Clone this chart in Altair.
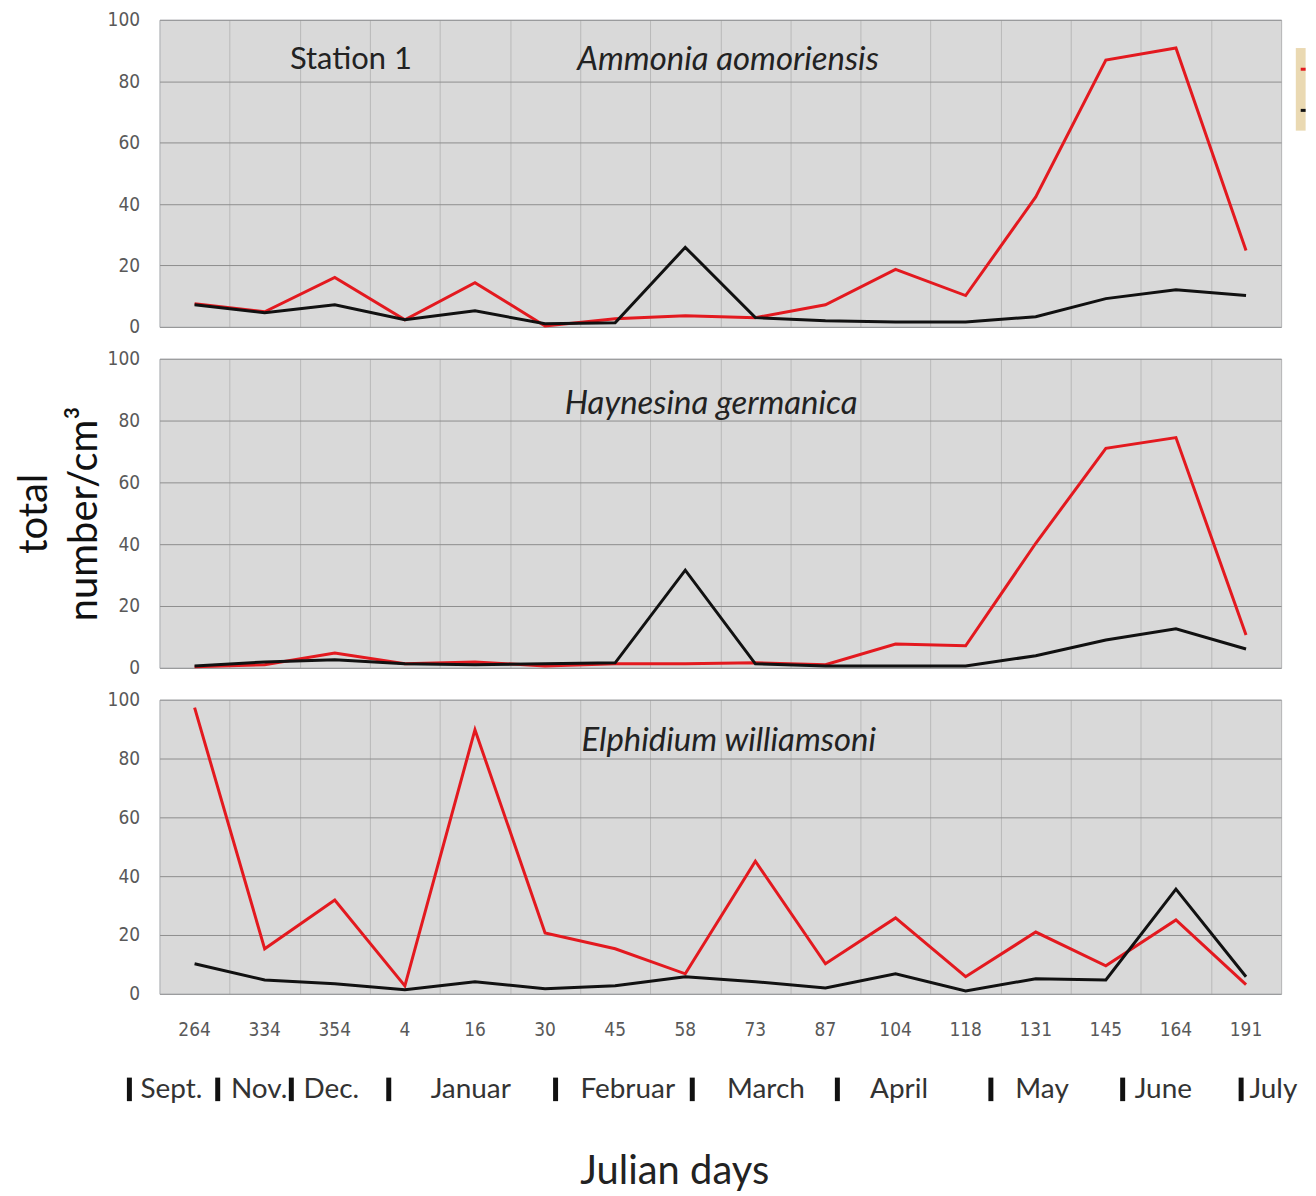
import altair as alt
import pandas as pd

# ---------------- data ----------------
days = ["264", "334", "354", "4", "16", "30", "45", "58",
        "73", "87", "104", "118", "131", "145", "164", "191"]

ammonia_red   = [7.5, 4.9, 16.1, 2.3, 14.4, 0.3, 2.6, 3.6, 3.0, 7.2, 18.7, 10.2, 42.3, 86.9, 90.8, 24.9]
ammonia_black = [7.2, 4.6, 7.2, 2.3, 5.2, 1.0, 1.3, 25.9, 3.0, 2.0, 1.6, 1.6, 3.3, 9.2, 12.1, 10.2]

haynesina_red   = [0.3, 1.0, 4.8, 1.3, 1.9, 0.6, 1.3, 1.3, 1.6, 1.0, 7.7, 7.1, 40.3, 71.0, 74.5, 10.6]
haynesina_black = [0.6, 1.9, 2.6, 1.3, 1.0, 1.3, 1.6, 31.6, 1.3, 0.6, 0.6, 0.6, 3.9, 9.0, 12.6, 6.1]

elphidium_red   = [97.3, 15.3, 31.9, 2.7, 89.8, 20.7, 15.3, 6.8, 45.1, 10.2, 25.8, 5.8, 21.0, 9.5, 25.1, 3.1]
elphidium_black = [10.2, 4.7, 3.4, 1.4, 4.1, 1.7, 2.7, 5.8, 4.1, 2.0, 6.8, 1.0, 5.1, 4.7, 35.6, 5.8]

species = ["Ammonia aomoriensis", "Haynesina germanica", "Elphidium williamsoni"]
station = "Station 1"

months = ["Sept.", "Nov.", "Dec.", "Januar", "Februar", "March", "April", "May", "June", "July"]
# month label centres and month separators along the sampling-index axis
month_label_at = [-0.33, 0.92, 1.95, 3.94, 6.18, 8.15, 10.05, 12.09, 13.82, 15.39]
month_sep_at = [-0.93, 0.33, 1.38, 2.77, 5.15, 7.10, 9.17, 11.36, 13.24, 14.93]

y_ticks = [0, 20, 40, 60, 80, 100]

# ---------------- helpers ----------------
RED = "#e3191f"
BLACK = "#111111"
NUM_FONT = "Liberation Sans Narrow, DejaVu Sans Condensed, sans-serif"
TXT_FONT = "Lato, Open Sans, sans-serif"
W = 1125

grid_vals = [i / 2 for i in range(-1, 32)]


def series_df(red, black):
    rows = []
    for i, d in enumerate(days):
        rows.append({"idx": i, "day": d, "series": "red", "value": red[i]})
        rows.append({"idx": i, "day": d, "series": "black", "value": black[i]})
    return pd.DataFrame(rows)


def x_enc():
    ax = alt.Axis(values=grid_vals, grid=True, gridColor="#b9b9b9", gridWidth=1,
                  ticks=False, tickSize=0, domain=False, labels=False, title=None)
    return alt.X("idx:Q", scale=alt.Scale(domain=[-0.5, 15.5], nice=False, zero=False), axis=ax)


def y_enc(title=None):
    kw = dict(values=y_ticks, grid=True, gridColor="#8e8e8e", gridWidth=1,
              ticks=False, tickSize=0, domain=False, labelFont=NUM_FONT,
              labelFontSize=19, labelColor="#595959", labelPadding=20)
    if title is not None:
        kw.update(title=title, titleFont=TXT_FONT, titleFontSize=40,
                  titleFontWeight="normal", titleColor="#111111",
                  titleLineHeight=50, titlePadding=3)
    else:
        kw.update(title=None)
    return alt.Y("value:Q", scale=alt.Scale(domain=[0, 100], nice=False), axis=alt.Axis(**kw))


def lines(red, black, ytitle=None):
    return alt.Chart(series_df(red, black)).mark_line(strokeWidth=3).encode(
        x=x_enc(),
        y=y_enc(ytitle),
        color=alt.Color("series:N", scale=alt.Scale(domain=["red", "black"], range=[RED, BLACK]),
                        legend=None),
        order=alt.Order("idx:Q"),
    )


def label(text, xi, yv, italic=True, size=33):
    df = pd.DataFrame({"idx": [xi], "value": [yv], "t": [text]})
    return alt.Chart(df).mark_text(font=TXT_FONT, fontSize=size,
                                   fontStyle="italic" if italic else "normal",
                                   color="#222222", align="center", baseline="middle").encode(
        x="idx:Q", y="value:Q", text="t:N")


# ---------------- top panel ----------------
legend_box = alt.Chart(pd.DataFrame({"idx": [15.71], "idx2": [15.85], "value": [90.8], "value2": [63.9]})) \
    .mark_rect(color="#ead9b2").encode(x="idx:Q", x2="idx2:Q", y="value:Q", y2="value2:Q")
legend_sw = alt.Chart(pd.DataFrame({"idx": [15.78, 15.78], "idx2": [15.85, 15.85],
                                    "value": [83.9, 70.5], "s": ["red", "black"]})) \
    .mark_rule(strokeWidth=3).encode(
        x="idx:Q", x2="idx2:Q", y="value:Q",
        color=alt.Color("s:N", scale=alt.Scale(domain=["red", "black"], range=[RED, BLACK]), legend=None))

top = alt.layer(
    lines(ammonia_red, ammonia_black),
    label(station, 2.23, 86.9, italic=False, size=31),
    label(species[0], 7.61, 86.9),
    legend_box, legend_sw,
).properties(width=W, height=308)

# ---------------- middle panel ----------------
mid = alt.layer(
    lines(haynesina_red, haynesina_black, ytitle=["total", "number/cm³"]),
    label(species[1], 7.37, 85.5),
).properties(width=W, height=310)

# ---------------- bottom panel ----------------
day_df = pd.DataFrame({"idx": list(range(len(days))), "value": [-12.2] * len(days), "t": days})
day_text = alt.Chart(day_df).mark_text(font=NUM_FONT, fontSize=19, color="#595959",
                                       align="center", baseline="middle").encode(
    x="idx:Q", y="value:Q", text="t:N")

month_df = pd.DataFrame({"idx": month_label_at, "value": [-32.6] * len(months), "t": months})
month_text = alt.Chart(month_df).mark_text(font=TXT_FONT, fontSize=28, color="#333333",
                                           align="center", baseline="middle").encode(
    x="idx:Q", y="value:Q", text="t:N")
sep_df = pd.DataFrame({"idx": month_sep_at, "value": [-28.5] * len(month_sep_at),
                       "value2": [-36.5] * len(month_sep_at)})
month_sep = alt.Chart(sep_df).mark_rule(strokeWidth=5, color="#111111").encode(
    x="idx:Q", y="value:Q", y2="value2:Q")
xtitle = label("Julian days", 6.85, -60.5, italic=False, size=40)

bot = alt.layer(
    lines(elphidium_red, elphidium_black),
    label(species[2], 7.62, 86.1),
    day_text, month_text, month_sep, xtitle,
).properties(width=W, height=295)

chart = alt.vconcat(top, mid, bot, spacing=32, bounds="flush").properties(
    padding={"left": 5, "top": 0, "right": 0, "bottom": 4}
).configure_view(fill="#d9d9d9", stroke="#c3c8d0", strokeWidth=1)

chart.save("out.html", embed_options={"renderer": "svg", "actions": False})
